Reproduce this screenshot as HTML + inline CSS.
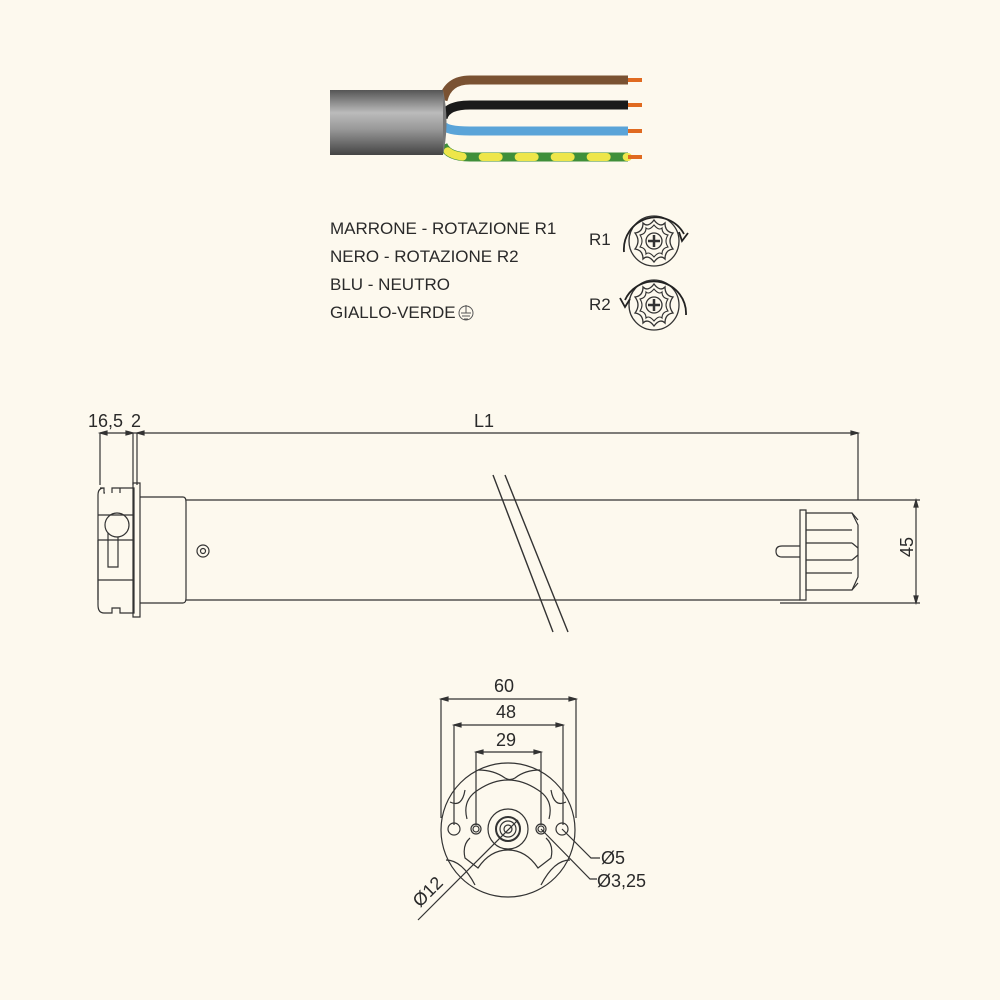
<!DOCTYPE html>
<html><head><meta charset="utf-8"><style>
html,body{margin:0;padding:0;background:#fdf9ee;}
svg{display:block}
text{font-family:"Liberation Sans",sans-serif;fill:#2a2a2a}
</style></head><body>
<svg width="1000" height="1000" viewBox="0 0 1000 1000" xmlns="http://www.w3.org/2000/svg">
<defs>
<linearGradient id="jk" x1="0" y1="0" x2="0" y2="1">
<stop offset="0" stop-color="#555"/><stop offset="0.35" stop-color="#bbb"/><stop offset="0.6" stop-color="#999"/><stop offset="1" stop-color="#444"/>
</linearGradient>
<g id="knob">
<circle r="25" fill="none" stroke="#333" stroke-width="1.3"/>
<path d="M0,-21 Q6,-13 11,-18 Q11,-9 19,-8 Q13,0 19,8 Q11,9 11,18 Q6,13 0,21 Q-6,13 -11,18 Q-11,9 -19,8 Q-13,0 -19,-8 Q-11,-9 -11,-18 Q-6,-13 0,-21Z" fill="none" stroke="#333" stroke-width="1.3"/>
<path d="M0,-16 Q5,-10 8,-13 Q8,-7 14,-6 Q10,0 14,6 Q8,7 8,13 Q5,10 0,16 Q-5,10 -8,13 Q-8,7 -14,6 Q-10,0 -14,-6 Q-8,-7 -8,-13 Q-5,-10 0,-16Z" fill="none" stroke="#333" stroke-width="1.1"/>
<circle r="8" fill="none" stroke="#333" stroke-width="1.3"/>
<path d="M-6,0H6M0,-6V6" stroke="#333" stroke-width="2.5"/>
</g>
</defs>
<rect width="1000" height="1000" fill="#fdf9ee"/>
<!-- cable -->
<path d="M443,100 Q448,80 470,80 L628,80" stroke="#7a5232" stroke-width="9" fill="none"/>
<path d="M443,118 Q446,105 470,105 L628,105" stroke="#1a1a1a" stroke-width="9" fill="none"/>
<path d="M443,125 Q446,131 470,131 L628,131" stroke="#5aa4d8" stroke-width="9" fill="none"/>
<path d="M443,145 Q448,157 470,157 L628,157" stroke="#3f8f3a" stroke-width="9" fill="none"/>
<path d="M443,145 Q448,157 470,157 L628,157" stroke="#eee64a" stroke-width="8" fill="none" stroke-dasharray="16,20" stroke-dashoffset="-8" stroke-linecap="round"/>
<g stroke="#e06a20" stroke-width="4"><path d="M628,80H642M628,105H642M628,131H642M628,157H642"/></g>
<rect x="330" y="90" width="113" height="65" fill="url(#jk)"/>
<path d="M443,90 Q450,122 443,155" fill="#777"/>
<!-- legend -->
<g font-size="17">
<text x="330" y="234">MARRONE - ROTAZIONE R1</text>
<text x="330" y="262">NERO - ROTAZIONE R2</text>
<text x="330" y="290">BLU - NEUTRO</text>
<text x="330" y="318">GIALLO-VERDE</text>
</g>
<g stroke="#555" fill="none" stroke-width="1"><circle cx="466" cy="313" r="7"/><path d="M466,305V313M461,313H471M462,316H470M464,319H468"/></g>
<text x="589" y="245" font-size="17">R1</text>
<text x="589" y="310" font-size="17">R2</text>
<use href="#knob" x="654" y="241"/>
<use href="#knob" x="654" y="305"/>
<path d="M624,252 A32,32 0 0 1 684,234" stroke="#222" stroke-width="1.8" fill="none"/>
<path d="M679,232 L682,241 L688,233" stroke="#222" stroke-width="1.8" fill="none"/>
<path d="M686,315 A32,32 0 0 0 625,300" stroke="#222" stroke-width="1.8" fill="none"/>
<path d="M620,298 L625,307 L630,299" stroke="#222" stroke-width="1.8" fill="none"/>
<!-- side view -->
<g stroke="#333" fill="none" stroke-width="1.2">
<path d="M100,433H858M100,433V485M133,433V485M137,433V485M858,433V500"/>
<path d="M100,433l7,-2v4zM133,433l-7,-2v4zM137,433l7,-2v4zM858,433l-7,-2v4z" fill="#333"/>
<path d="M100,488H104V493H105M112,493V488H120V493M120,488H134V613H120V608H112V613H104Q98,613 98,605V495Q98,488 104,488" />
<path d="M98,515H134M98,540H134M98,580H134M98,540V600"/>
<circle cx="117" cy="525" r="12"/>
<path d="M108,533V567H118V537"/>
<path d="M133,483H140V617H133Z"/>
<path d="M140,497H183Q186,497 186,502V598Q186,603 183,603H140"/>
<path d="M186,500H800M186,600H800"/>
<circle cx="203" cy="551" r="6"/><circle cx="203" cy="551" r="2.5"/>
<path d="M493,475L553,632M505,475L568,632" stroke-width="1.4"/>
<path d="M800,510H806V600H800Z"/>
<path d="M806,513H852L858,525V577L852,590H806Z"/>
<path d="M806,530H852M806,543H852M806,560H852M806,573H852M852,513L858,520M852,543L858,548M852,560L858,555M852,590L858,583"/>
<path d="M800,546H782Q776,546 776,551Q776,557 782,557H800"/>
<path d="M780,500H920M780,603H920M916,500V603"/>
<path d="M916,500l-2,7h4zM916,603l-2,-7h4z" fill="#333"/>
</g>
<text x="88" y="427" font-size="18">16,5</text>
<text x="131" y="427" font-size="18">2</text>
<text x="474" y="427" font-size="18">L1</text>
<text transform="translate(913,557) rotate(-90)" font-size="18">45</text>
<!-- end view -->
<g stroke="#333" fill="none" stroke-width="1.2">
<circle cx="508" cy="830" r="67"/>
<path d="M441,699H576M441,699V818M576,699V818"/>
<path d="M454,725H563M454,725V825M563,725V825"/>
<path d="M476,752H541M476,752V825M541,752V825"/>
<path d="M441,699l7,-2v4zM576,699l-7,-2v4zM454,725l7,-2v4zM563,725l-7,-2v4zM476,752l7,-2v4zM541,752l-7,-2v4z" fill="#333"/>
<circle cx="454" cy="829" r="6"/><circle cx="562" cy="829" r="6"/>
<circle cx="476" cy="829" r="5"/><circle cx="476" cy="829" r="3"/>
<circle cx="541" cy="829" r="5"/><circle cx="541" cy="829" r="3"/>
<circle cx="508" cy="829" r="20"/><circle cx="508" cy="829" r="12" stroke-width="2"/><circle cx="508" cy="829" r="8"/><circle cx="508" cy="829" r="4"/>
<path d="M467,819Q462,800 478,790Q508,770 538,790Q554,800 549,819"/>
<path d="M470,838Q462,845 465,858L478,868Q490,850 508,850Q526,850 538,868L551,858Q554,845 546,838"/>
<path d="M478,770Q494,770 505,778Q510,781 515,778Q525,770 540,770"/>
<path d="M450,802Q462,808 465,790M566,802Q554,808 551,790"/>
<path d="M446,860Q462,860 475,885M570,860Q554,860 541,885"/>
<path d="M518,820L418,920"/>
<path d="M562,829L591,858H600M541,829L590,879H597"/>
</g>
<text x="494" y="692" font-size="18">60</text>
<text x="496" y="718" font-size="18">48</text>
<text x="496" y="746" font-size="18">29</text>
<text x="601" y="864" font-size="18">Ø5</text>
<text x="597" y="887" font-size="18">Ø3,25</text>
<text transform="translate(420,908) rotate(-45)" font-size="18">Ø12</text>
</svg>
</body></html>
